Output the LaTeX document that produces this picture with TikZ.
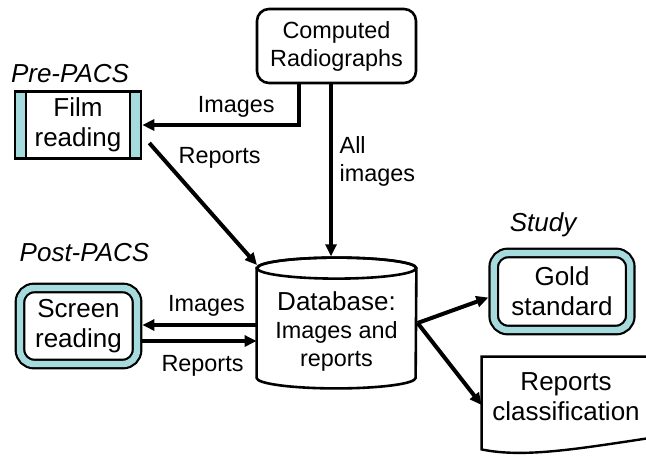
\documentclass[tikz,border=0pt]{standalone}
\usepackage{fontspec}
\setmainfont{Liberation Sans}
\usetikzlibrary{shapes.geometric, arrows.meta, positioning}

\definecolor{panelteal}{RGB}{166,219,221}
\newcommand{\bigtext}{\fontsize{13}{15}\selectfont}
\newcommand{\midtext}{\fontsize{11.7}{14}\selectfont}

\begin{document}
\begin{tikzpicture}[
        x=0.5pt, y=-0.5pt,
        every node/.style={font=\bigtext},
        box/.style={rectangle, draw, line width=1.3pt, rounded corners=6pt, align=center, fill=white},
        filmbox/.style={rectangle, draw, line width=1.3pt, align=center, fill=white,
            minimum width=63pt, minimum height=33pt,
            path picture={
                \fill[panelteal] (path picture bounding box.south west) rectangle ([xshift=5.5pt]path picture bounding box.north west);
                \fill[panelteal] (path picture bounding box.south east) rectangle ([xshift=-5.5pt]path picture bounding box.north east);
                \draw[line width=1.3pt] ([xshift=5.5pt]path picture bounding box.south west) -- ([xshift=5.5pt]path picture bounding box.north west);
                \draw[line width=1.3pt] ([xshift=-5.5pt]path picture bounding box.south east) -- ([xshift=-5.5pt]path picture bounding box.north east);
            }},
        framed/.style={rectangle, draw, line width=1.1pt, double=panelteal, double distance=3.2pt,
            rounded corners=7pt, align=center, fill=white, outer sep=2.7pt},
        outline/.style={line width=1.3pt},
        tag/.style={font=\bigtext\itshape},
        edgetext/.style={font=\midtext},
        arrow/.style={-{Triangle[length=6pt,width=5.5pt]}, line width=2pt}
    ]
    \path[use as bounding box, clip] (0,0) rectangle (646,456);

    % sources and stores
    \node[box, font=\midtext, minimum width=79.5pt, minimum height=37pt] (cr) at (336.5,46) {Computed\\Radiographs};
    \node[filmbox] (film) at (78,125) {Film\\reading};

    % database drum: the node spans the body between the two rims
    \node[minimum width=79.5pt, minimum height=54.5pt, inner sep=0pt] (db) at (336.5,323) {};
    \draw[outline, fill=white] (db.north west) -- (db.south west)
        arc[start angle=180, end angle=360, x radius=39.75pt, y radius=5.25pt] -- (db.north east)
        arc[start angle=0, end angle=180, x radius=39.75pt, y radius=5.25pt] -- cycle;
    \draw[outline] (db.north) ellipse[x radius=39.75pt, y radius=5.25pt];
    \node[font=\midtext, align=center] (dbtext) at ([yshift=-4.3pt]db.center) {{\bigtext Database:}\\Images and\\reports};

    \node[framed, minimum width=58.5pt, minimum height=38pt] (scr) at (78.5,326) {Screen\\reading};
    \node[framed, minimum width=68.25pt, minimum height=38.5pt] (gold) at (562,291.5) {Gold\\standard};
    \node[minimum width=84pt, minimum height=40pt, align=center] (rep) at (566,397) {Reports\\classification};
    \draw[line width=1.2pt] ([xshift=10pt]rep.north east) -- (rep.north west) -- ([yshift=-6pt]rep.south west)
        .. controls +(43,9) and +(-80,12) .. ([xshift=5pt,yshift=0.5pt]rep.south east);

    % phase labels
    \node[tag, above=0pt of film, xshift=-4pt] (pre) {Pre-PACS};
    \node[tag, above=7pt of scr, xshift=3pt] (post) {Post-PACS};
    \node[tag, above=2pt of gold, xshift=-9.5pt] (study) {Study};

    % flows
    \draw[arrow] ([xshift=-18.75pt]cr.south) |- node[edgetext, pos=0.7, above, yshift=-0.5pt] {Images} (film.east);
    \draw[arrow] ([xshift=-2.75pt]cr.south) -- node[edgetext, pos=0.45, right, align=left] {All\\images} ([xshift=-2.75pt,yshift=5.9pt]cr.south |- db.north);
    \draw[arrow] ([xshift=3.5pt,yshift=-9pt]film.east) -- node[edgetext, pos=0.1, anchor=west, xshift=5pt, yshift=-1.5pt] {Reports} ([xshift=-39.75pt,yshift=29pt]db.center);
    \draw[arrow] ([yshift=-1pt]db.west) -- node[edgetext, above, xshift=3.5pt, yshift=0pt] {Images} ([yshift=-1pt]db.west -| scr.east);
    \draw[arrow] ([yshift=-9pt]db.west -| scr.east) -- node[edgetext, below, xshift=1.5pt, yshift=-3pt] {Reports} ([yshift=-9pt]db.west);
    \draw[arrow] ([xshift=0.6pt]db.east) -- ([yshift=-3pt]gold.west);
    \draw[arrow] ([xshift=0.6pt]db.east) -- ([yshift=-4pt]rep.west);
\end{tikzpicture}
\end{document}
